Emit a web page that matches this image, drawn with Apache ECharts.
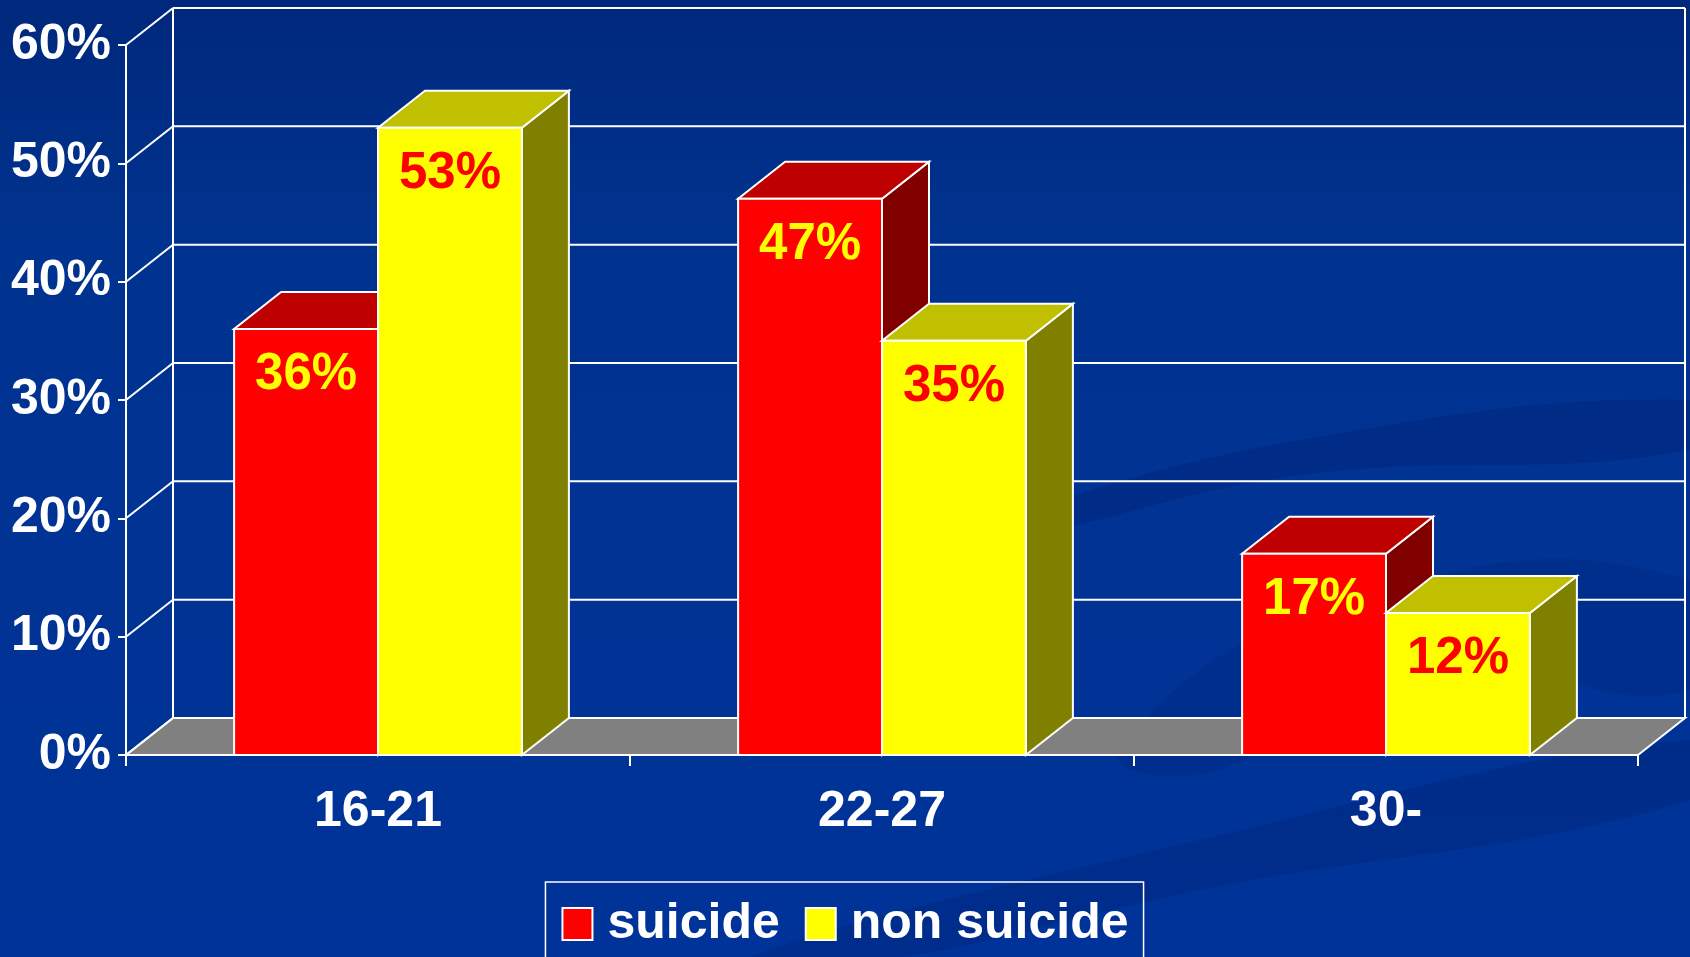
<!DOCTYPE html>
<html>
<head>
<meta charset="utf-8">
<script src="https://cdn.jsdelivr.net/npm/echarts@6/dist/echarts.min.js"></script>
<style>
  html, body { margin: 0; padding: 0; }
  #chart { width: 1690px; height: 957px; }
</style>
</head>
<body>
<div id="chart"></div>
<script>
var categories = ['16-21', '22-27', '30-'];
var seriesNames = ['suicide', 'non suicide'];
var suicide = [36, 47, 17];
var nonSuicide = [53, 35, 12];
var yTicks = [0, 10, 20, 30, 40, 50, 60];

// depth of the fake 3d box, px
var DX = 47, DY = -37;
var FONT = '"Liberation Sans", Arial, sans-serif';

var faces = {
    red: { front: '#FF0000', top: '#BF0000', side: '#800000', label: '#FFFF00' },
    yellow: { front: '#FFFF00', top: '#C0C000', side: '#808000', label: '#FF0000' }
};
var edge = { stroke: '#FFFFFF', lineWidth: 2 };

function wallItem(params, api) {
    var cs = params.coordSys;
    var y = api.coord([0, api.value(1)])[1];
    var left = cs.x, right = cs.x + cs.width;
    var kids = [
        { type: 'line', shape: { x1: left, y1: y, x2: left + DX, y2: y + DY }, style: edge },
        { type: 'line', shape: { x1: left + DX, y1: y + DY, x2: right + DX, y2: y + DY }, style: edge }
    ];
    if (api.value(1) === 0) {
        var yTop = api.coord([0, yTicks[yTicks.length - 1]])[1];
        kids.unshift({ type: 'polygon',
            shape: { points: [[left, y], [right, y], [right + DX, y + DY], [left + DX, y + DY]] },
            style: { fill: '#808080', stroke: '#FFFFFF', lineWidth: 2 } });
        kids.push({ type: 'line', shape: { x1: left + DX, y1: y + DY, x2: left + DX, y2: yTop + DY }, style: edge });
        kids.push({ type: 'line', shape: { x1: right + DX, y1: y + DY, x2: right + DX, y2: yTop + DY }, style: edge });
    }
    return { type: 'group', children: kids };
}

function barRenderer(shift, c) {
    return function (params, api) {
        var cat = api.value(0), val = api.value(1);
        var top = api.coord([cat, val]);
        var base = api.coord([cat, 0]);
        var w = api.size([1, 0])[0] * 0.2855;
        var x0 = top[0] + shift * w, x1 = x0 + w;
        var yt = top[1], yb = base[1];
        return {
            type: 'group',
            children: [
                { type: 'polygon', shape: { points: [[x1, yt], [x1, yb], [x1 + DX, yb + DY], [x1 + DX, yt + DY]] },
                  style: { fill: c.side, stroke: '#fff', lineWidth: 2 } },
                { type: 'polygon', shape: { points: [[x0, yt], [x1, yt], [x1 + DX, yt + DY], [x0 + DX, yt + DY]] },
                  style: { fill: c.top, stroke: '#fff', lineWidth: 2 } },
                { type: 'rect', shape: { x: x0, y: yt, width: w, height: yb - yt },
                  style: { fill: c.front, stroke: '#fff', lineWidth: 2 } },
                { type: 'text', x: x0 + w / 2, y: yt + 46,
                  style: { text: val + '%', fill: c.label, font: 'bold 51px ' + FONT,
                           align: 'center', verticalAlign: 'middle' } }
            ]
        };
    };
}

var chart = echarts.init(document.getElementById('chart'));
chart.setOption({
    backgroundColor: {
        type: 'linear', x: 0, y: 0, x2: 0, y2: 1,
        colorStops: [{ offset: 0, color: '#00287C' }, { offset: 0.25, color: '#00338F' }, { offset: 1, color: '#003399' }]
    },
    graphic: [
        { type: 'polygon', z: -10, silent: true,
          shape: { smooth: 0.4, points: [[1000, 520], [1300, 440], [1690, 400], [1690, 450], [1300, 475], [1000, 540]] },
          style: { fill: 'rgba(0,30,110,0.3)' } },
        { type: 'polygon', z: -10, silent: true,
          shape: { smooth: 0.4, points: [[750, 957], [1200, 840], [1690, 740], [1690, 800], [1200, 890], [900, 957]] },
          style: { fill: 'rgba(0,30,110,0.3)' } },
        { type: 'polygon', z: -10, silent: true,
          shape: { smooth: 0.5, points: [[1120, 750], [1350, 600], [1690, 580], [1690, 690], [1400, 660], [1220, 770]] },
          style: { fill: 'rgba(0,30,110,0.2)' } }
    ],
    grid: { left: 126, right: 52, top: 45, bottom: 202 },
    legend: {
        data: [
            { name: seriesNames[0], itemStyle: { color: '#FF0000', borderColor: '#fff', borderWidth: 2 } },
            { name: seriesNames[1], itemStyle: { color: '#FFFF00', borderColor: '#fff', borderWidth: 2 } }
        ],
        left: 'center', top: 882,
        icon: 'rect', itemWidth: 30, itemHeight: 32, itemGap: 25,
        padding: [16, 15, 40, 16],
        borderColor: '#FFFFFF', borderWidth: 1.5,
        textStyle: { color: '#FFFFFF', fontSize: 50, fontWeight: 'bold', fontFamily: FONT,
                     lineHeight: 52, padding: [0, 0, 0, 10] }
    },
    xAxis: {
        type: 'category', data: categories,
        axisLine: { show: true, lineStyle: { color: '#FFFFFF', width: 2 } },
        axisTick: { show: true, length: 11, lineStyle: { color: '#FFFFFF', width: 2 } },
        axisLabel: { color: '#FFFFFF', fontSize: 50, fontWeight: 'bold', fontFamily: FONT, margin: 32 },
        splitLine: { show: false }
    },
    yAxis: {
        type: 'value', min: 0, max: 60, interval: 10,
        axisLine: { show: true, lineStyle: { color: '#FFFFFF', width: 2 } },
        axisTick: { show: true, length: 8, lineStyle: { color: '#FFFFFF', width: 2 } },
        axisLabel: { color: '#FFFFFF', fontSize: 50, fontWeight: 'bold', fontFamily: FONT, margin: 15,
                     formatter: '{value}%' },
        splitLine: { show: false }
    },
    series: [
        { name: 'wall', type: 'custom', clip: false, silent: true, z: 1,
          data: yTicks.map(function (t) { return [0, t]; }), renderItem: wallItem },
        { name: seriesNames[0], type: 'custom', clip: false, z: 3,
          itemStyle: { color: '#FF0000' },
          data: suicide.map(function (v, i) { return [i, v]; }), renderItem: barRenderer(-1, faces.red) },
        { name: seriesNames[1], type: 'custom', clip: false, z: 4,
          itemStyle: { color: '#FFFF00' },
          data: nonSuicide.map(function (v, i) { return [i, v]; }), renderItem: barRenderer(0, faces.yellow) }
    ]
});
</script>
</body>
</html>
